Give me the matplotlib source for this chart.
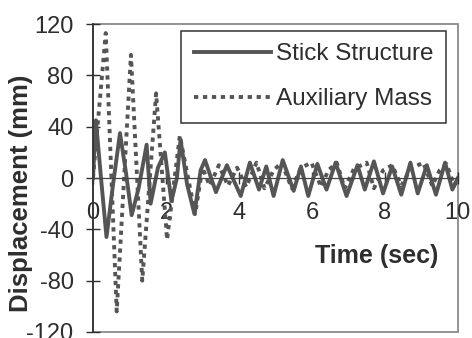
import matplotlib
matplotlib.use("Agg")
import matplotlib.pyplot as plt
from matplotlib.patches import Rectangle

plt.rcParams['font.family'] = ['Liberation Sans', 'DejaVu Sans']
plt.rcParams['axes.unicode_minus'] = False

# Stick Structure (solid): time (s), displacement (mm)
t_stick = [0.00, 0.08, 0.22, 0.37, 0.55, 0.74, 0.90, 1.06, 1.25, 1.47, 1.58, 1.78,
           1.97, 2.15, 2.30, 2.40, 2.58, 2.78, 2.95, 3.07, 3.37, 3.67, 4.05, 4.30,
           4.55, 4.75, 4.95, 5.20, 5.50, 5.70, 5.90, 6.15, 6.40, 6.65, 6.95, 7.25,
           7.45, 7.70, 7.95, 8.20, 8.45, 8.70, 8.90, 9.15, 9.40, 9.65, 9.85, 10.0]
d_stick = [0, 45, 0, -46, -5, 35, 5, -29, -8, 26, -20, 8,
           20, -18, 0, 30, -5, -28, 6, 14, -11, 10, -14, 12,
           -9, 9, -14, 14, -10, 9, -14, 11, -9, 12, -14, 10,
           -9, 13, -12, 9, -13, 12, -12, 10, -13, 12, -9, 0]

# Auxiliary Mass (dotted)
t_aux = [0.00, 0.35, 0.65, 1.04, 1.35, 1.73, 2.03, 2.38, 2.80, 3.00, 3.20, 3.45,
         3.70, 3.95, 4.20, 4.48, 4.70, 4.95, 5.17, 5.45, 5.70, 5.99, 6.25, 6.45,
         6.68, 6.90, 7.15, 7.50, 7.70, 7.95, 8.20, 8.45, 8.70, 9.05, 9.30, 9.50,
         9.69, 9.90, 10.0]
d_aux = [0, 113, -104, 96, -80, 66, -48, 33, -28, 8, -6, 10,
         -6, 8, -7, 12, -8, 6, 12, -8, 8, 12, -7, 6,
         12, -8, 7, 12, -8, 6, 10, -6, 7, 12, -6, 6,
         11, -6, 0]

line_col = '#555555'
text_col = '#2e2e2e'

fig = plt.figure(figsize=(4.72, 3.38), dpi=100)
ax = fig.add_axes([0.197, 0.0178, 0.773, 0.911])

ax.plot(t_stick, d_stick, color=line_col, lw=2.8, label='Stick Structure')
ax.plot(t_aux, d_aux, color=line_col, lw=2.8, dashes=(1.1, 1.2), label='Auxiliary Mass')

ax.set_xlim(0, 10)
ax.set_ylim(-120, 120)
ax.set_xticks([0, 2, 4, 6, 8, 10])
ax.set_yticks([-120, -80, -40, 0, 40, 80, 120])

ax.spines['bottom'].set_position(('data', 0))
ax.spines['bottom'].set_color('#444444')
ax.spines['bottom'].set_linewidth(0.9)
ax.spines['left'].set_color('#333333')
ax.spines['left'].set_linewidth(1.3)
ax.spines['top'].set_visible(False)
ax.spines['right'].set_visible(False)
ax.add_patch(Rectangle((0, 0), 1, 1, transform=ax.transAxes, fill=False,
                       edgecolor='#8a8a8a', lw=1.3, clip_on=False, zorder=0))

ax.tick_params(axis='y', direction='inout', length=10, width=1, labelsize=17,
               pad=9, colors=text_col)
ax.tick_params(axis='x', direction='inout', length=8, width=1, labelsize=17,
               pad=13, colors=text_col)

ax.set_xlabel('Time (sec)', fontsize=18, fontweight='bold', color=text_col, va='center')
ax.xaxis.set_label_coords(0.777, 0.247)
ax.set_ylabel('Displacement (mm)', fontsize=18.5, fontweight='bold', color=text_col, va='center')
ax.yaxis.set_label_coords(-0.198, 0.45)

leg = ax.legend(loc='upper right', bbox_to_anchor=(0.967, 0.977), fontsize=17.5,
                handlelength=3.2, handletextpad=0.2, labelspacing=0.95,
                borderpad=0.5, borderaxespad=0, fancybox=False, framealpha=1)
leg.get_frame().set_edgecolor('#333333')
leg.get_frame().set_linewidth(1.1)
for txt in leg.get_texts():
    txt.set_color(text_col)

fig.savefig('out.png', dpi=100)
